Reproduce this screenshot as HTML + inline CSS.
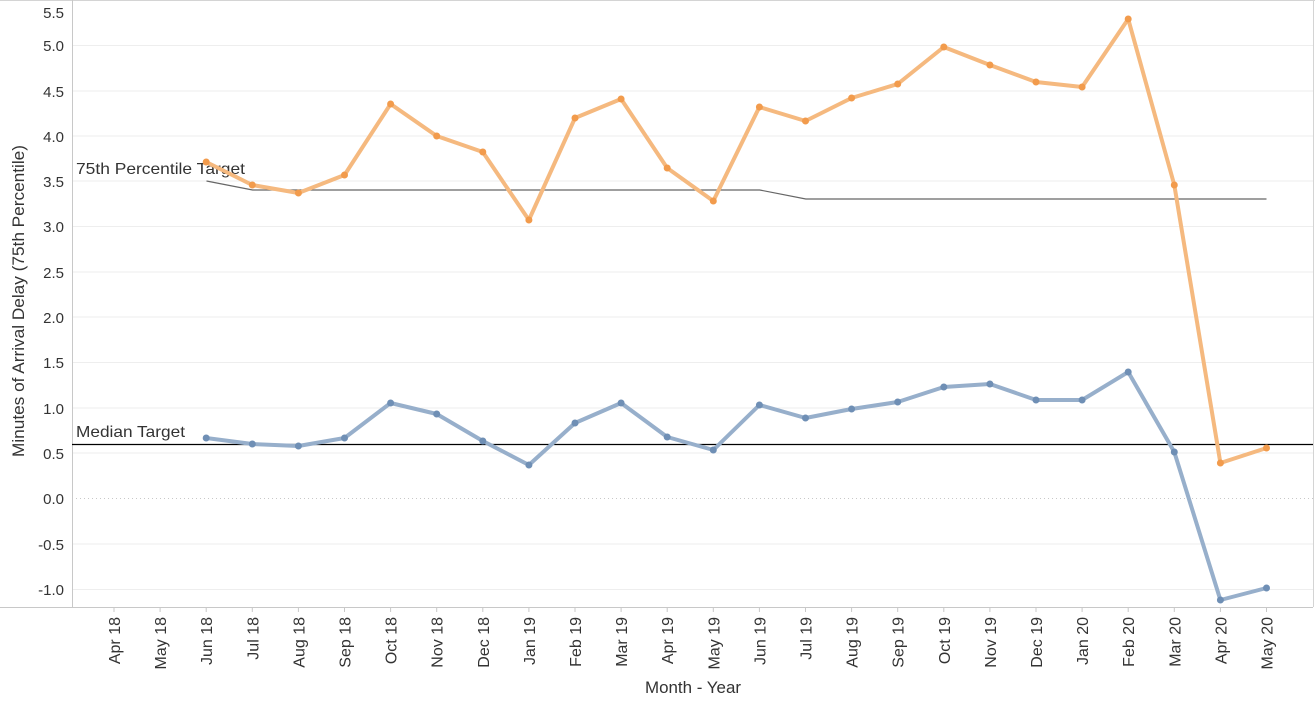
<!DOCTYPE html>
<html><head><meta charset="utf-8"><style>
body{margin:0;background:#fff;}
svg text{font-family:"Liberation Sans",sans-serif;}
</style></head><body>
<svg width="1315" height="706" viewBox="0 0 1315 706" xmlns="http://www.w3.org/2000/svg">
<rect x="0" y="0" width="1315" height="706" fill="#fff"/>
<line x1="0" y1="0.5" x2="1315" y2="0.5" stroke="#d4d4d4"/>
<line x1="1313.5" y1="0" x2="1313.5" y2="607" stroke="#d4d4d4"/>
<g stroke="#eeeeee" stroke-width="1">
<line x1="72" x2="1313" y1="45.5" y2="45.5"/>
<line x1="72" x2="1313" y1="91" y2="91"/>
<line x1="72" x2="1313" y1="136" y2="136"/>
<line x1="72" x2="1313" y1="181" y2="181"/>
<line x1="72" x2="1313" y1="226.5" y2="226.5"/>
<line x1="72" x2="1313" y1="272" y2="272"/>
<line x1="72" x2="1313" y1="317" y2="317"/>
<line x1="72" x2="1313" y1="362.5" y2="362.5"/>
<line x1="72" x2="1313" y1="408" y2="408"/>
<line x1="72" x2="1313" y1="453" y2="453"/>
<line x1="72" x2="1313" y1="544" y2="544"/>
<line x1="72" x2="1313" y1="589.5" y2="589.5"/>
</g>
<line x1="72" x2="1313" y1="498.5" y2="498.5" stroke="#c8c8c8" stroke-dasharray="1,3"/>
<line x1="72.5" y1="0" x2="72.5" y2="607" stroke="#c8c8c8"/>
<line x1="0" y1="607.5" x2="1313" y2="607.5" stroke="#c8c8c8"/>
<g font-size="15" fill="#333" text-anchor="end">
<text x="64" y="18">5.5</text><text x="64" y="51">5.0</text><text x="64" y="97">4.5</text>
<text x="64" y="142">4.0</text><text x="64" y="187">3.5</text><text x="64" y="232">3.0</text>
<text x="64" y="278">2.5</text><text x="64" y="323">2.0</text><text x="64" y="368">1.5</text>
<text x="64" y="414">1.0</text><text x="64" y="459">0.5</text><text x="64" y="504">0.0</text>
<text x="64" y="550">-0.5</text><text x="64" y="595">-1.0</text>
</g>
<text transform="translate(24,301) rotate(-90)" font-size="17" fill="#333" text-anchor="middle" textLength="312" lengthAdjust="spacingAndGlyphs">Minutes of Arrival Delay (75th Percentile)</text>
<text x="693" y="693" font-size="17" fill="#333" text-anchor="middle" textLength="96" lengthAdjust="spacingAndGlyphs">Month - Year</text>
<g id="ticks" font-size="16" fill="#333" text-anchor="end"></g>
<polyline fill="none" stroke="#666" stroke-width="1.2" points="206.5,181 252.6,190 759.7,190 805.8,199 1266.5,199"/>
<line x1="72" y1="444.5" x2="1313" y2="444.5" stroke="#000" stroke-width="1.2"/>
<text x="76" y="174" font-size="16" fill="#333" textLength="169" lengthAdjust="spacingAndGlyphs">75th Percentile Target</text>
<text x="76" y="437" font-size="16" fill="#333" textLength="109" lengthAdjust="spacingAndGlyphs">Median Target</text>
<g id="series"></g>
</svg>
<script>
var months=["Apr 18","May 18","Jun 18","Jul 18","Aug 18","Sep 18","Oct 18","Nov 18","Dec 18","Jan 19","Feb 19","Mar 19","Apr 19","May 19","Jun 19","Jul 19","Aug 19","Sep 19","Oct 19","Nov 19","Dec 19","Jan 20","Feb 20","Mar 20","Apr 20","May 20"];
var ns="http://www.w3.org/2000/svg";
function X(i){return 114+46.1*i;}
var t=document.getElementById("ticks");
months.forEach(function(m,i){
 var l=document.createElementNS(ns,"line");l.setAttribute("x1",X(i));l.setAttribute("x2",X(i));l.setAttribute("y1",607);l.setAttribute("y2",612);l.setAttribute("stroke","#c8c8c8");t.appendChild(l);
 var tx=document.createElementNS(ns,"text");tx.setAttribute("transform","translate("+(X(i)+6)+",617) rotate(-90)");tx.textContent=m;t.appendChild(tx);
});
var o=[162,185,193,175,104,136,152,220,118,99,168,201,107,121,98,84,47,65,82,87,19,185,463,448];
var b=[438,444,446,438,403,414,441,465,423,403,437,450,405,418,409,402,387,384,400,400,372,452,600,588];
var s=document.getElementById("series");
function draw(arr,line,dot){
 var pts=arr.map(function(y,k){return X(k+2)+","+y;}).join(" ");
 var p=document.createElementNS(ns,"polyline");p.setAttribute("points",pts);p.setAttribute("fill","none");p.setAttribute("stroke",line);p.setAttribute("stroke-width","4");p.setAttribute("stroke-linejoin","round");s.appendChild(p);
 arr.forEach(function(y,k){var c=document.createElementNS(ns,"circle");c.setAttribute("cx",X(k+2));c.setAttribute("cy",y);c.setAttribute("r",3.5);c.setAttribute("fill",dot);s.appendChild(c);});
}
draw(o,"#f5b97f","#f29b4c");
draw(b,"#97afcb","#6f8fb5");
</script>
</body></html>
